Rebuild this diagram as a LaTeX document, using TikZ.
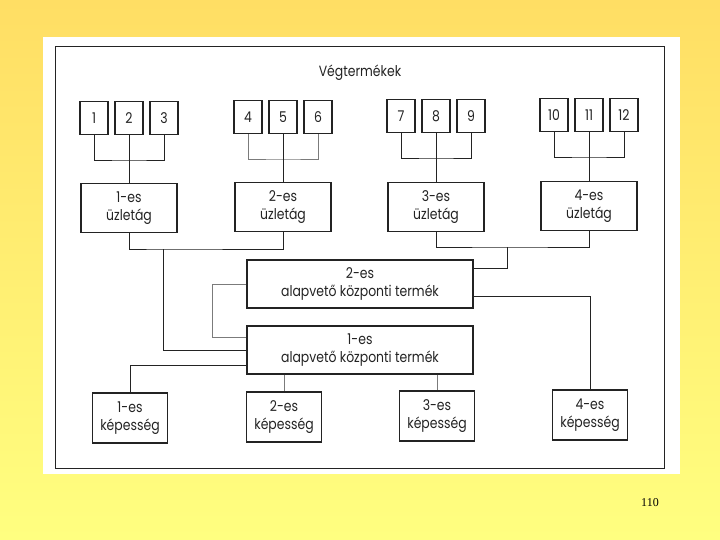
\documentclass[tikz,border=0pt]{standalone}
\usepackage{fontspec}
\setmainfont{Liberation Serif}
\newfontfamily\gothic{Poppins}[FakeStretch=0.84]
\usepackage{xcolor}
\usepackage{tikz}
\usetikzlibrary{positioning}

\definecolor{pagetop}{RGB}{255,222,100}
\definecolor{pagebot}{RGB}{255,255,128}
\definecolor{ink}{RGB}{35,35,35}

\begin{document}
\begin{tikzpicture}[x=1pt,y=-1pt,
  every node/.style={font=\gothic\fontsize{14.8}{17.5}\selectfont,text=ink,align=center},
  num/.style={draw=ink,line width=1.3pt,minimum width=28pt,minimum height=33pt,inner sep=0pt},
  unit/.style={draw=ink,line width=1.3pt,minimum width=96pt,minimum height=49pt,inner sep=0pt},
  core/.style={draw=ink,line width=1.3pt,minimum width=226pt,minimum height=48pt,inner sep=0pt},
  skill/.style={draw=ink,line width=1.1pt,minimum width=75pt,minimum height=50pt,inner sep=0pt},
  link/.style={draw=ink,line width=0.9pt},
  faint/.style={draw=ink!60,line width=0.5pt}]
\useasboundingbox (0,0) rectangle (720,540);
\shade[top color=pagetop,bottom color=pagebot] (0,0) rectangle (720,540);
\fill[white] (43,37) rectangle (680,474);
\draw[ink,line width=1pt] (55,47) rectangle (664,468);

\node (title) at (360,73) {Végtermékek};

% vegtermekek
\node[num] (n1) at (94,118) {1};
\node[num] (n2) at (129,118) {2};
\node[num] (n3) at (164,118) {3};
\node[num] (n4) at (248,117) {4};
\node[num] (n5) at (283,117) {5};
\node[num] (n6) at (318,117) {6};
\node[num] (n7) at (401,116) {7};
\node[num] (n8) at (436,116) {8};
\node[num] (n9) at (471,116) {9};
\node[num] (n10) at (554,115) {10};
\node[num] (n11) at (589,115) {11};
\node[num] (n12) at (624,115) {12};

% uzletagak
\node[unit] (u1) at (129,208) {1-es\\üzletág};
\node[unit] (u2) at (283,207) {2-es\\üzletág};
\node[unit] (u3) at (436,207) {3-es\\üzletág};
\node[unit] (u4) at (589,206) {4-es\\üzletág};

% alapveto kozponti termekek
\node[core] (c2) at (360,284) {2-es\\alapvető központi termék};
\node[core] (c1) at (360,350) {1-es\\alapvető központi termék};

% kepessegek
\node[skill] (k1) at (130,418) {1-es\\képesség};
\node[skill] (k2) at (284,417) {2-es\\képesség};
\node[skill] (k3) at (437,416) {3-es\\képesség};
\node[skill] (k4) at (590,415) {4-es\\képesség};

\coordinate (g1) at (129,160);
\coordinate (g2) at (283,159);
\coordinate (g3) at (436,158);
\coordinate (g4) at (589,157);
\draw[link] (n1.south) |- (g1) -| (n3.south);
\draw[link] (n2.south) -- (u1.north);
\draw[faint] (n4.south) |- (g2) -| (n6.south);
\draw[link] (n5.south) -- (u2.north);
\draw[link] (n7.south) |- (g3) -| (n9.south);
\draw[link] (n8.south) -- (u3.north);
\draw[link] (n10.south) |- (g4) -| (n12.south);
\draw[link] (n11.south) -- (u4.north);

\coordinate (jl) at (163,249);
\coordinate (jr) at (507,247);
\draw[link] (u1.south) |- (jl) -| (u2.south);
\draw[link] (jl) |- (c1.west);
\draw[link] (u3.south) |- (jr) -| (u4.south);
\draw[link] (jr) |- ([yshift=16pt]c2.east);

\draw[faint] (c2.west) -- ++(-34,0) |- ([yshift=13pt]c1.west);
\draw[link] ([yshift=-12pt]c2.east) -| (k4.north);
\draw[link] ([yshift=-15pt]c1.west) -| (k1.north);
\draw[faint] (c1.south -| k2.north) -- (k2.north);
\draw[faint] (c1.south -| k3.north) -- (k3.north);

\node[font=\rmfamily\fontsize{12}{14}\selectfont,text=black] (page) at (650,503) {110};
\end{tikzpicture}
\end{document}
